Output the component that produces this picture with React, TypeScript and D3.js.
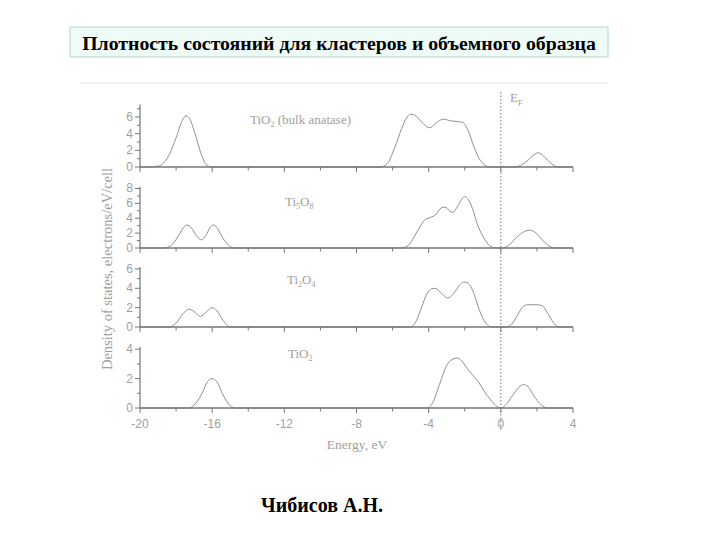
import React from "react";
import * as d3 from "d3";

type Pt = [number, number];

// Energy axis
const xDomain: [number, number] = [-20, 4];
const xTickValues = [-20, -18, -16, -14, -12, -10, -8, -6, -4, -2, 0, 2, 4];
const xLabelValues = [-20, -16, -12, -8, -4, 0, 4];

// Panel names
const panelNames = ["bulk", "Ti5O8", "Ti2O4", "TiO2"];
const yTickMax = [6, 8, 6, 4];
const yDomainMax = [7.5, 8.2, 6.2, 4.15];

// DOS curves (energy eV, states)
const bulkCore: Pt[] = [[-19.5, 0], [-19, 0.1], [-18.5, 1.0], [-18, 3.5], [-17.65, 5.6], [-17.45, 6.15], [-17.25, 5.8], [-16.95, 4.0], [-16.6, 1.5], [-16.3, 0.2], [-16, 0]];
const bulkValence: Pt[] = [[-6.7, 0], [-6.3, 0.4], [-5.9, 2.2], [-5.5, 4.6], [-5.2, 6.0], [-5.0, 6.35], [-4.7, 6.1], [-4.3, 5.2], [-3.95, 4.7], [-3.6, 5.25], [-3.2, 5.75], [-2.8, 5.55], [-2.4, 5.45], [-2.1, 5.35], [-1.8, 4.3], [-1.5, 2.5], [-1.2, 1.0], [-0.9, 0.25], [-0.6, 0]];
const bulkConduction: Pt[] = [[0.7, 0], [1.1, 0.2], [1.5, 0.8], [1.85, 1.5], [2.05, 1.7], [2.3, 1.45], [2.6, 0.8], [2.9, 0.25], [3.2, 0]];

const ti5o8Core: Pt[] = [[-18.7, 0], [-18.3, 0.3], [-17.9, 1.5], [-17.6, 2.7], [-17.4, 3.1], [-17.15, 2.7], [-16.85, 1.6], [-16.6, 1.1], [-16.35, 1.7], [-16.1, 2.8], [-15.95, 3.1], [-15.7, 2.6], [-15.4, 1.3], [-15.1, 0.4], [-14.8, 0]];
const ti5o8Valence: Pt[] = [[-5.5, 0], [-5.1, 0.4], [-4.8, 1.5], [-4.5, 2.8], [-4.2, 3.8], [-3.9, 4.1], [-3.6, 4.5], [-3.3, 5.4], [-3.1, 5.5], [-2.85, 5.0], [-2.65, 4.8], [-2.4, 5.6], [-2.15, 6.6], [-2.0, 6.9], [-1.8, 6.5], [-1.5, 4.8], [-1.3, 3.2], [-1.0, 1.6], [-0.7, 0.5], [-0.4, 0.05], [-0.2, 0]];
const ti5o8Conduction: Pt[] = [[0.1, 0], [0.5, 0.5], [0.9, 1.5], [1.3, 2.2], [1.6, 2.4], [1.9, 2.1], [2.3, 1.1], [2.6, 0.4], [3.0, 0]];

const ti2o4Core: Pt[] = [[-18.4, 0], [-18.0, 0.4], [-17.6, 1.4], [-17.3, 1.85], [-17.0, 1.6], [-16.65, 1.1], [-16.3, 1.6], [-16.0, 2.0], [-15.75, 1.7], [-15.4, 0.7], [-15.0, 0]];
const ti2o4Valence: Pt[] = [[-5.0, 0], [-4.7, 0.6], [-4.4, 2.0], [-4.1, 3.4], [-3.85, 3.95], [-3.65, 4.0], [-3.3, 3.5], [-2.95, 3.0], [-2.6, 3.5], [-2.3, 4.3], [-2.05, 4.65], [-1.8, 4.5], [-1.5, 3.5], [-1.2, 1.8], [-0.9, 0.6], [-0.6, 0.05], [-0.4, 0]];
const ti2o4Conduction: Pt[] = [[0.3, 0], [0.6, 0.3], [0.95, 1.3], [1.25, 2.15], [1.5, 2.3], [2.0, 2.3], [2.3, 2.2], [2.6, 1.4], [2.9, 0.5], [3.2, 0]];

const tio2Core: Pt[] = [[-17.3, 0], [-17.0, 0.2], [-16.6, 0.9], [-16.25, 1.8], [-16.0, 2.0], [-15.75, 1.8], [-15.4, 0.9], [-15.0, 0.15], [-14.7, 0]];
const tio2Valence: Pt[] = [[-4.1, 0], [-3.8, 0.3], [-3.4, 1.6], [-3.0, 2.9], [-2.7, 3.3], [-2.4, 3.4], [-2.1, 3.1], [-1.8, 2.6], [-1.5, 2.15], [-1.2, 1.7], [-0.9, 1.1], [-0.6, 0.6], [-0.3, 0.2], [0, 0]];
const tio2Conduction: Pt[] = [[0, 0], [0.3, 0.25], [0.65, 0.85], [1.0, 1.4], [1.25, 1.6], [1.5, 1.45], [1.85, 0.8], [2.2, 0.25], [2.6, 0]];

const panelSegments: Pt[][][] = [
  [bulkCore, bulkValence, bulkConduction],
  [ti5o8Core, ti5o8Valence, ti5o8Conduction],
  [ti2o4Core, ti2o4Valence, ti2o4Conduction],
  [tio2Core, tio2Valence, tio2Conduction],
];

// layout (pixels)
const panelBaselines = [167, 248, 327, 408];
const panelTops = [104.5, 187, 267, 347];

const AXIS = "#767676";
const CURVE = "#8f8f8f";
const TXT = "#a0a0a0";

export default function App() {
  const x = d3.scaleLinear().domain(xDomain).range([140, 573]);
  const line = d3
    .line<Pt>()
    .x((d) => x(d[0]))
    .curve(d3.curveMonotoneX);

  const panels = panelNames.map((name, i) => {
    const y = d3.scaleLinear().domain([0, yDomainMax[i]]).range([panelBaselines[i], panelTops[i]]);
    line.y((d) => y(d[1]));
    const segs = panelSegments[i];
    const full: Pt[] = [[xDomain[0], 0], ...segs.flat(), [xDomain[1], 0]];
    const majors = d3.range(0, yTickMax[i] + 0.001, 2);
    const minors = d3.range(1, yDomainMax[i], 2);
    return (
      <g key={name}>
        <path d={line(full) || ""} fill="none" stroke={CURVE} strokeWidth={1} />
        {/* x axis */}
        <line x1={x(xDomain[0])} x2={x(xDomain[1])} y1={y(0)} y2={y(0)} stroke={AXIS} strokeWidth={1.3} />
        {xTickValues.map((t) => (
          <line key={t} x1={x(t)} x2={x(t)} y1={y(0)} y2={y(0) + (t % 4 === 0 ? 5 : 3.5)} stroke={AXIS} strokeWidth={1} />
        ))}
        {/* y axis */}
        <line x1={x(xDomain[0])} x2={x(xDomain[0])} y1={y(0)} y2={y(yDomainMax[i])} stroke={AXIS} strokeWidth={1.2} />
        {majors.map((t) => (
          <g key={"m" + t}>
            <line x1={x(xDomain[0]) - 5} x2={x(xDomain[0])} y1={y(t)} y2={y(t)} stroke={AXIS} strokeWidth={1} />
            <text x={x(xDomain[0]) - 7} y={y(t) + 4} textAnchor="end" fontSize={12} fontFamily="Liberation Sans, Arial, sans-serif" fill={TXT}>
              {t}
            </text>
          </g>
        ))}
        {minors.map((t) => (
          <line key={"n" + t} x1={x(xDomain[0]) - 3} x2={x(xDomain[0])} y1={y(t)} y2={y(t)} stroke={AXIS} strokeWidth={1} />
        ))}
      </g>
    );
  });

  const serif = "Liberation Serif, Times New Roman, serif";
  const lastBase = panelBaselines[3];

  return (
    <svg width={720} height={540} style={{ position: "absolute", left: 0, top: 0 }} xmlns="http://www.w3.org/2000/svg">
      <rect x={0} y={0} width={720} height={540} fill="#ffffff" />
      {/* title box */}
      <rect x={70} y={27} width={538} height={30} fill="#effbf6" stroke="#bfdcd2" strokeWidth={1.2} />
      <text x={339} y={49.5} textAnchor="middle" fontSize={19.8} fontWeight="bold" fontFamily={serif} fill="#000">
        Плотность состояний для кластеров и объемного образца
      </text>
      <line x1={80} x2={608} y1={83} y2={83} stroke="#e2e2e2" strokeWidth={1.2} />

      {/* Fermi level */}
      <line x1={x(0)} x2={x(0)} y1={92} y2={430} stroke="#777" strokeWidth={1} strokeDasharray="1.5,2" />
      <text x={510} y={102} fontSize={13} fontFamily={serif} fill={TXT}>
        E<tspan fontSize={8} dy={4}>F</tspan>
      </text>

      {panels}

      {/* panel labels */}
      <text x={250} y={124} fontSize={13} fontFamily={serif} fill={TXT}>
        TiO<tspan fontSize={8} dy={3}>2</tspan>
        <tspan dy={-3}> (bulk anatase)</tspan>
      </text>
      <text x={285} y={206} fontSize={13} fontFamily={serif} fill={TXT}>
        Ti<tspan fontSize={8} dy={3}>5</tspan>
        <tspan dy={-3}>O</tspan>
        <tspan fontSize={8} dy={3}>8</tspan>
      </text>
      <text x={287} y={284} fontSize={13} fontFamily={serif} fill={TXT}>
        Ti<tspan fontSize={8} dy={3}>2</tspan>
        <tspan dy={-3}>O</tspan>
        <tspan fontSize={8} dy={3}>4</tspan>
      </text>
      <text x={288} y={358} fontSize={13} fontFamily={serif} fill={TXT}>
        TiO<tspan fontSize={8} dy={3}>2</tspan>
      </text>

      {/* x tick labels */}
      {xLabelValues.map((t) => (
        <text key={t} x={x(t)} y={lastBase + 20} textAnchor="middle" fontSize={12} fontFamily="Liberation Sans, Arial, sans-serif" fill={TXT}>
          {t}
        </text>
      ))}
      <text x={357} y={449} textAnchor="middle" fontSize={13.5} fontFamily={serif} fill={TXT}>
        Energy, eV
      </text>
      <text transform="translate(112,269) rotate(-90)" textAnchor="middle" fontSize={14.5} fontFamily={serif} fill={TXT}>
        Density of states, electrons/eV/cell
      </text>

      {/* author */}
      <text x={322} y={512} textAnchor="middle" fontSize={20} fontWeight="bold" fontFamily={serif} fill="#000">
        Чибисов А.Н.
      </text>
    </svg>
  );
}
